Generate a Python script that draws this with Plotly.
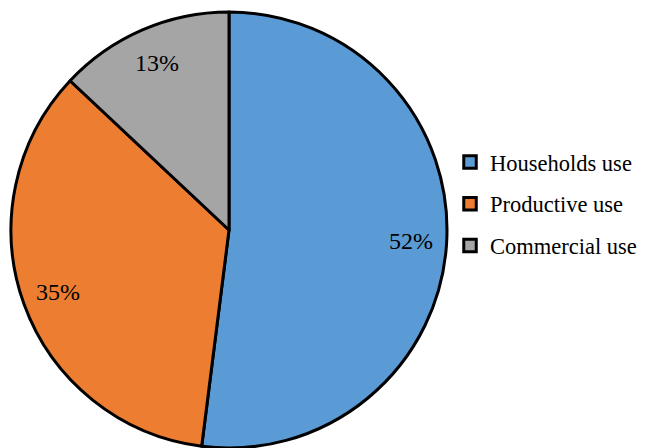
import math
import plotly.graph_objects as go

labels = ["Households use", "Productive use", "Commercial use"]
shares = [52, 35, 13]
colors = ["#5B9BD5", "#ED7D31", "#A5A5A5"]

W, H = 650, 448
# pie placement in pixels (centre and radius)
CX, CY, R = 229, 230, 218
LABEL_R = 0.835  # data labels sit near the rim

fig = go.Figure()

fig.add_trace(
    go.Pie(
        labels=labels,
        values=shares,
        sort=False,
        direction="clockwise",
        rotation=0,
        marker=dict(colors=colors, line=dict(color="black", width=3)),
        textinfo="none",
        domain=dict(x=[(CX - R) / W, (CX + R) / W], y=[(H - CY - R) / H, (H - CY + R) / H]),
        hoverinfo="label+percent",
        showlegend=False,
    )
)

# legend entries: square swatches with a black outline
for name, col in zip(labels, colors):
    fig.add_trace(
        go.Scatter(
            x=[None], y=[None], mode="markers", name=name, legendgroup=name,
            marker=dict(symbol="square", size=12.5, color=col, line=dict(color="black", width=3)),
        )
    )

# percentage labels placed at the angular middle of each slice
total = sum(shares)
start = 0.0
for v in shares:
    mid = start + v / total * 360 / 2
    start += v / total * 360
    a = math.radians(mid)
    px = CX + LABEL_R * R * math.sin(a)
    py = CY - LABEL_R * R * math.cos(a)
    fig.add_annotation(
        x=px / W, y=1 - py / H, xref="paper", yref="paper",
        xanchor="center", yanchor="middle",
        text=f"{v}%", showarrow=False,
        font=dict(family="Liberation Serif", size=24, color="black"),
    )

fig.update_layout(
    width=W,
    height=H,
    margin=dict(l=0, r=0, t=0, b=0),
    paper_bgcolor="white",
    plot_bgcolor="white",
    xaxis=dict(visible=False),
    yaxis=dict(visible=False),
    showlegend=True,
    legend=dict(
        x=450 / W,
        y=0.545,
        xanchor="left",
        yanchor="middle",
        font=dict(family="Liberation Serif", size=22.5, color="black"),
        itemwidth=30,
        tracegroupgap=9.5,
        bgcolor="rgba(0,0,0,0)",
    ),
)

fig.write_html("out.html")
